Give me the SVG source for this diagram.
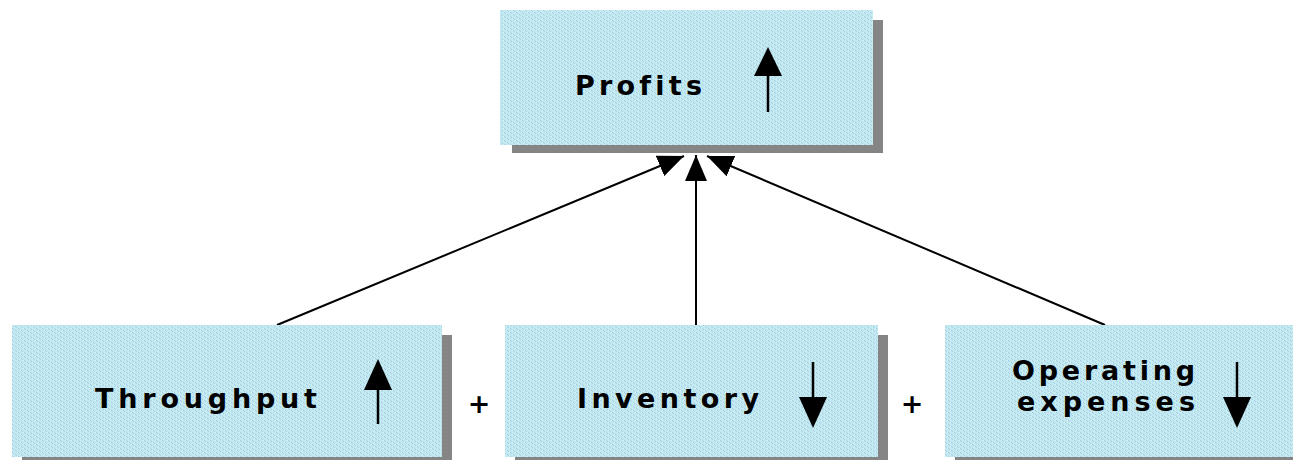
<svg xmlns="http://www.w3.org/2000/svg" width="1293" height="460" viewBox="0 0 1293 460">
<style>
.box{fill:url(#tex);}
.shadow{fill:#858585;}
.lbl{font-family:"DejaVu Sans","Liberation Sans",sans-serif;font-weight:bold;font-size:27px;fill:#000;font-variant-ligatures:none;}
.plus{font-family:"DejaVu Sans",sans-serif;font-weight:bold;font-size:27px;fill:#000;}
.conn{stroke:#000;stroke-width:2;fill:none;}
.ind{stroke:#000;stroke-width:2.5;fill:none;}
</style>
<defs>
<pattern id="tex" width="6" height="4" patternUnits="userSpaceOnUse">
<rect width="6" height="4" fill="#c0eaf0"/>
<rect x="0" y="0" width="1" height="1" fill="#a9c4e6"/>
<rect x="3" y="2" width="1" height="1" fill="#a9c4e6"/>
<rect x="1" y="1" width="1" height="1" fill="#b0d0e8"/>
<rect x="4" y="3" width="1" height="1" fill="#b0d0e8"/>
<rect x="5" y="0" width="1" height="1" fill="#d2f2f6"/>
<rect x="2" y="2" width="1" height="1" fill="#d2f2f6"/>
</pattern>
<marker id="ah" viewBox="0 0 26 22" refX="26" refY="11" markerWidth="26" markerHeight="22" markerUnits="userSpaceOnUse" orient="auto">
<path d="M0,0 L26,11 L0,22 Z" fill="#000"/>
</marker>
</defs>
<rect width="1293" height="460" fill="#fff"/>

<g id="connectors">
<line class="conn" x1="277" y1="325" x2="684" y2="156" marker-end="url(#ah)"/>
<line class="conn" x1="696" y1="325" x2="696" y2="155" marker-end="url(#ah)"/>
<line class="conn" x1="1105" y1="325" x2="707" y2="156" marker-end="url(#ah)"/>
</g>

<g id="profits">
<rect class="shadow" x="512" y="20" width="371" height="133"/>
<rect class="box" x="500" y="10" width="373" height="135"/>
<text class="lbl" x="575" y="95" textLength="127" lengthAdjust="spacing">Profits</text>
<line class="ind" x1="768" y1="70" x2="768" y2="112"/>
<path d="M768,47 L782,76 L754,76 Z" fill="#000"/>
</g>

<g id="throughput">
<rect class="shadow" x="22" y="335" width="430" height="125"/>
<rect class="box" x="12" y="325" width="430" height="132"/>
<text class="lbl" x="95" y="408" textLength="222" lengthAdjust="spacing">Throughput</text>
<line class="ind" x1="378" y1="385" x2="378" y2="424"/>
<path d="M378,359 L392,390 L364,390 Z" fill="#000"/>
</g>

<text id="plus1" class="plus" x="479" y="413" text-anchor="middle">+</text>

<g id="inventory">
<rect class="shadow" x="515" y="335" width="373" height="125"/>
<rect class="box" x="505" y="325" width="373" height="132"/>
<text class="lbl" x="577" y="408" textLength="182" lengthAdjust="spacing">Inventory</text>
<line class="ind" x1="813" y1="362" x2="813" y2="402"/>
<path d="M813,428 L799,397 L827,397 Z" fill="#000"/>
</g>

<text id="plus2" class="plus" x="912" y="413" text-anchor="middle">+</text>

<g id="operating-expenses">
<rect class="shadow" x="955" y="335" width="338" height="125"/>
<rect class="box" x="945" y="325" width="348" height="132"/>
<text class="lbl" font-size="26"><tspan x="1012" y="380" textLength="183" lengthAdjust="spacing">Operating</tspan><tspan x="1017" y="411" textLength="178" lengthAdjust="spacing">expenses</tspan></text>
<line class="ind" x1="1237" y1="362" x2="1237" y2="402"/>
<path d="M1237,428 L1223,397 L1251,397 Z" fill="#000"/>
</g>
</svg>
